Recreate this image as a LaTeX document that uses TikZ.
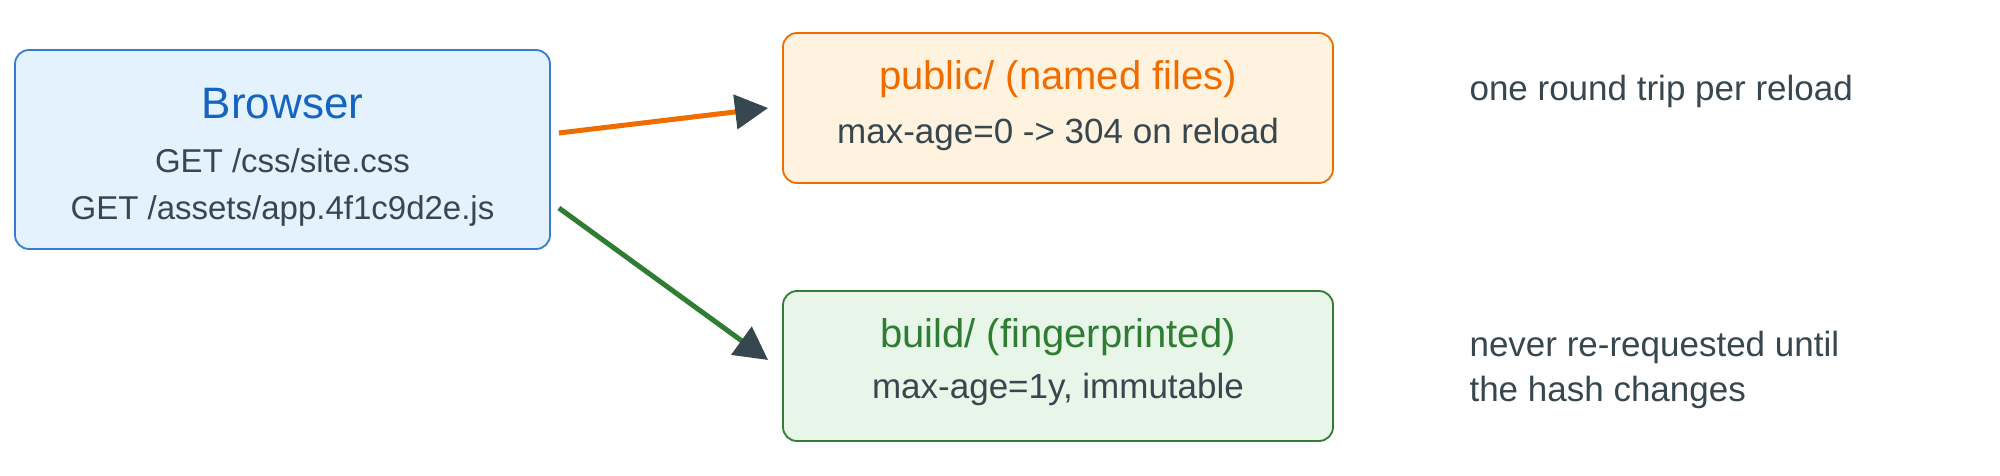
\documentclass[tikz,border=0pt]{standalone}
\usepackage{fontspec}
\setmainfont{Liberation Sans}
\usetikzlibrary{arrows.meta}

\definecolor{slate}{HTML}{37474F}
\definecolor{browserblue}{HTML}{1565C0}
\definecolor{browserline}{HTML}{3A7BD0}
\definecolor{browserfill}{HTML}{E3F2FD}
\definecolor{publine}{HTML}{EF6C00}
\definecolor{pubfill}{HTML}{FFF3E0}
\definecolor{buildline}{HTML}{2E7D32}
\definecolor{buildfill}{HTML}{E8F5E9}

\begin{document}
\begin{tikzpicture}[x=1pt, y=-1pt,
    box/.style = {rectangle, rounded corners=14pt, line width=1.8pt,
                  inner sep=0pt, minimum width=550pt, minimum height=150pt},
    title/.style = {anchor=base, font=\fontsize{40}{48}\selectfont},
    body/.style = {anchor=base, text=slate, font=\fontsize{35}{42}\selectfont},
    note/.style = {anchor=base west, text=slate, font=\fontsize{35}{42}\selectfont},
    link/.style = {line width=5pt, -{Triangle[length=33pt, width=34pt, color=slate]}},
    ]
\useasboundingbox (0,0) rectangle (2000,475);

% boxes
\node [box, draw=browserline, fill=browserfill,
       minimum width=535pt, minimum height=199pt] (browser) at (282.5,149.5) {};
\node [box, draw=publine, fill=pubfill] (public) at (1058,108) {};
\node [box, draw=buildline, fill=buildfill] (build) at (1058,366) {};

% texts
\node [title, text=browserblue, font=\fontsize{44}{52}\selectfont] (browsertitle) at (282.5,118) {Browser};
\node [body, font=\fontsize{33}{40}\selectfont] (getcss) at (282.5,172) {GET /css/site.css};
\node [body, font=\fontsize{33}{40}\selectfont] (getjs) at (282.5,219) {GET /assets/app.4f1c9d2e.js};

\node [title, text=publine] (pubtitle) at (1058,89) {public/ (named files)};
\node [body] (pubbody) at (1058,143) {max-age=0 -> 304 on reload};

\node [title, text=buildline] (buildtitle) at (1058,347) {build/ (fingerprinted)};
\node [body] (buildbody) at (1058,398) {max-age=1y, immutable};

\node [note] (pubnote) at (1466,100) {one round trip per reload};
\node [note] (buildnote1) at (1466,356) {never re-requested until};
\node [note] (buildnote2) at (1466,401) {the hash changes};

% arrows
\draw [link, publine] ([xshift=8pt, yshift=16.5pt]browser.east) -- ([xshift=-14pt]public.west);
\draw [link, buildline] ([xshift=8pt, yshift=-58.5pt]browser.east) -- ([xshift=-14pt, yshift=6pt]build.west);
\end{tikzpicture}
\end{document}
